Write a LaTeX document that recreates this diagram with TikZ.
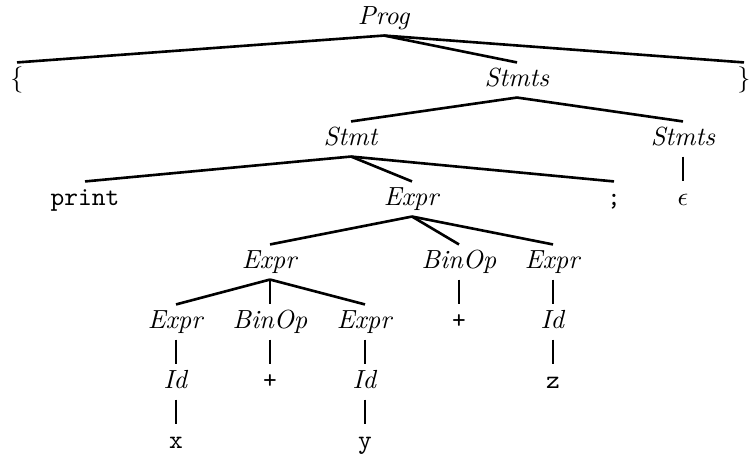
\documentclass[tikz,border=0pt]{standalone}
\usepackage{tikz}

\tikzset{
	sym/.style={inner sep=2pt, text height=7pt, text depth=2pt},
	branch/.style={line width=1pt}
}

\begin{document}
\begin{tikzpicture}[x=0.3817pt, y=-0.3817pt]
			%%%%% START %%%%%
			\useasboundingbox (0, 0) rectangle (749, 455);
			
			\node[sym] (prog) at (384, 18) {\textit{Prog}};
			
			\node[sym] (lbrace) at (17, 80) {\{};
			\node[sym] (stmts) at (517, 80) {\textit{Stmts}};
			\node[sym] (rbrace) at (744, 80) {\}};
			
			\node[sym] (stmt) at (351, 139) {\textit{Stmt}};
			\node[sym] (stmtsb) at (683, 139) {\textit{Stmts}};
			
			\node[sym] (print) at (85, 199) {\texttt{print}};
			\node[sym] (expr) at (412, 199) {\textit{Expr}};
			\node[sym] (semi) at (614, 199) {\texttt{;}};
			\node[sym] (eps) at (683, 199) {$\epsilon$};
			
			\node[sym] (exprl) at (270, 262) {\textit{Expr}};
			\node[sym] (binop) at (459, 262) {\textit{BinOp}};
			\node[sym] (exprr) at (553, 262) {\textit{Expr}};
			
			\node[sym] (exprll) at (176, 322) {\textit{Expr}};
			\node[sym] (binopl) at (270, 322) {\textit{BinOp}};
			\node[sym] (exprlr) at (365, 322) {\textit{Expr}};
			\node[sym] (plus) at (459, 322) {\texttt{+}};
			\node[sym] (idz) at (553, 322) {\textit{Id}};
			
			\node[sym] (idx) at (176, 382) {\textit{Id}};
			\node[sym] (plusl) at (270, 382) {\texttt{+}};
			\node[sym] (idy) at (365, 382) {\textit{Id}};
			\node[sym] (z) at (553, 382) {\texttt{z}};
			
			\node[sym] (x) at (176, 442) {\texttt{x}};
			\node[sym] (y) at (365, 442) {\texttt{y}};
			
			% branches
			\draw[branch] (prog.south) -- (lbrace.north);
			\draw[branch] (prog.south) -- (stmts.north);
			\draw[branch] (prog.south) -- (rbrace.north);
			
			\draw[branch] (stmts.south) -- (stmt.north);
			\draw[branch] (stmts.south) -- (stmtsb.north);
			
			\draw[branch] (stmt.south) -- (print.north);
			\draw[branch] (stmt.south) -- (expr.north);
			\draw[branch] (stmt.south) -- (semi.north);
			\draw[branch] (stmtsb.south) -- (eps.north);
			
			\draw[branch] (expr.south) -- (exprl.north);
			\draw[branch] (expr.south) -- (binop.north);
			\draw[branch] (expr.south) -- (exprr.north);
			
			\draw[branch] (exprl.south) -- (exprll.north);
			\draw[branch] (exprl.south) -- (binopl.north);
			\draw[branch] (exprl.south) -- (exprlr.north);
			\draw[branch] (binop.south) -- (plus.north);
			\draw[branch] (exprr.south) -- (idz.north);
			
			\draw[branch] (exprll.south) -- (idx.north);
			\draw[branch] (binopl.south) -- (plusl.north);
			\draw[branch] (exprlr.south) -- (idy.north);
			\draw[branch] (idz.south) -- (z.north);
			
			\draw[branch] (idx.south) -- (x.north);
			\draw[branch] (idy.south) -- (y.north);
			
			%%%%% END %%%%%
\end{tikzpicture}
\end{document}
